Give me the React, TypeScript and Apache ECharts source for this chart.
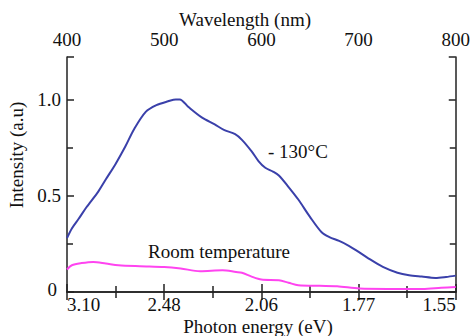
import React, { useEffect, useRef } from "react";
import * as echarts from "echarts";

const wavelengthTicks = [400, 500, 600, 700, 800];
const photonEnergyLabels = ["3.10", "2.48", "2.06", "1.77", "1.55"];

const cold130Wavelength = [400, 405, 412, 420, 432, 440, 450, 460, 469, 481, 492, 504, 512, 516, 525, 539, 552, 562, 573, 580, 590, 597, 604, 612, 618, 628, 638, 650, 662, 670, 680, 690, 698, 710, 725, 740, 752, 765, 779, 790, 800];
const cold130Intensity = [0.28, 0.33, 0.38, 0.44, 0.52, 0.585, 0.665, 0.755, 0.845, 0.935, 0.97, 0.99, 1.0, 1.0, 0.96, 0.905, 0.87, 0.84, 0.82, 0.79, 0.73, 0.68, 0.645, 0.625, 0.605, 0.545, 0.48, 0.39, 0.31, 0.285, 0.265, 0.24, 0.215, 0.175, 0.13, 0.1, 0.087, 0.08, 0.073, 0.078, 0.085];

const roomWavelength = [400, 405, 415, 427, 440, 453, 475, 500, 517, 537, 560, 574, 580, 590, 600, 618, 628, 638, 660, 678, 701, 730, 766, 785, 800];
const roomIntensity = [0.117, 0.139, 0.15, 0.156, 0.148, 0.139, 0.134, 0.13, 0.122, 0.108, 0.113, 0.104, 0.1, 0.08, 0.065, 0.061, 0.048, 0.035, 0.032, 0.03, 0.018, 0.016, 0.016, 0.022, 0.026];

const FONT = "Liberation Serif";
const FS = 19;

export default function App() {
  const ref = useRef<HTMLDivElement>(null);
  useEffect(() => {
    if (!ref.current) return;
    const chart = echarts.init(ref.current, null, { renderer: "svg" });
    const axisLine = { show: true, lineStyle: { color: "#222", width: 1.5 } };
    const xBase = {
      type: "value" as const,
      min: 400,
      max: 800,
      interval: 100,
      axisLine,
      axisTick: { show: true, inside: true, length: 8, lineStyle: { color: "#222", width: 1.5 } },
      minorTick: { show: true, splitNumber: 2, length: 6, lineStyle: { color: "#222", width: 1.5 } },
      splitLine: { show: false },
    };
    const yBase = {
      type: "value" as const,
      min: 0,
      max: 1.22,
      interval: 0.5,
      axisLine,
      axisTick: { show: true, inside: true, length: 7, lineStyle: { color: "#222", width: 1.5 } },
      minorTick: { show: true, splitNumber: 2, length: 6, lineStyle: { color: "#222", width: 1.5 } },
      splitLine: { show: false },
    };
    chart.setOption({
      animation: false,
      backgroundColor: "#fff",
      grid: { left: 67, right: 10, top: 57, bottom: 44, containLabel: false },
      xAxis: [
        {
          ...xBase,
          position: "bottom",
          axisLabel: {
            margin: 4,
            fontFamily: FONT,
            fontSize: FS,
            lineHeight: 17,
            color: "#111",
            alignMinLabel: "left",
            alignMaxLabel: "right",
            formatter: (v: number) => {
              const i = wavelengthTicks.indexOf(Math.round(v));
              return i >= 0 ? photonEnergyLabels[i] : "";
            },
          },
        },
        {
          ...xBase,
          position: "top",
          axisLabel: {
            margin: 8,
            fontFamily: FONT,
            fontSize: FS,
            color: "#111",
            formatter: (v: number) => (wavelengthTicks.includes(Math.round(v)) ? String(Math.round(v)) : ""),
          },
        },
      ],
      yAxis: [
        {
          ...yBase,
          position: "left",
          axisLabel: {
            margin: 6,
            fontFamily: FONT,
            fontSize: FS,
            color: "#111",
            formatter: (v: number) => (v === 0 ? "{z|0}" : v === 0.5 ? "0.5" : v === 1 ? "1.0" : ""),
            rich: { z: { fontFamily: FONT, fontSize: FS, lineHeight: 16, color: "#111", padding: [0, 4, 6, 0] } },
          },
        },
        {
          ...yBase,
          position: "right",
          axisLabel: { show: false },
        },
      ],
      graphic: [
        { type: "text", x: 245, y: 19, style: { text: "Wavelength (nm)", fontFamily: FONT, fontSize: FS, fill: "#111", align: "center", verticalAlign: "middle" } },
        { type: "text", x: 258, y: 326, style: { text: "Photon energy (eV)", fontFamily: FONT, fontSize: FS, lineHeight: 18, fill: "#111", align: "center", verticalAlign: "middle" } },
        { type: "text", x: 16, y: 155, rotation: Math.PI / 2, style: { text: "Intensity (a.u)", fontFamily: FONT, fontSize: FS, fill: "#111", align: "center", verticalAlign: "middle" } },
        { type: "text", x: 268, y: 151, style: { text: "- 130°C", fontFamily: FONT, fontSize: FS, fill: "#111", align: "left", verticalAlign: "middle" } },
        { type: "text", x: 148, y: 251, style: { text: "Room temperature", fontFamily: FONT, fontSize: FS, fill: "#111", align: "left", verticalAlign: "middle" } },
      ],
      series: [
        {
          name: "-130°C",
          type: "line",
          xAxisIndex: 0,
          yAxisIndex: 0,
          data: cold130Wavelength.map((w, i) => [w, cold130Intensity[i]]),
          smooth: 0.3,
          symbol: "none",
          lineStyle: { color: "#3a40aa", width: 2 },
        },
        {
          name: "Room temperature",
          type: "line",
          xAxisIndex: 0,
          yAxisIndex: 0,
          data: roomWavelength.map((w, i) => [w, roomIntensity[i]]),
          smooth: 0.3,
          symbol: "none",
          lineStyle: { color: "#ff44f0", width: 2 },
        },
      ],
    });
    return () => chart.dispose();
  }, []);
  return <div ref={ref} style={{ width: 473, height: 336, position: "absolute", left: 0, top: 0 }} />;
}
